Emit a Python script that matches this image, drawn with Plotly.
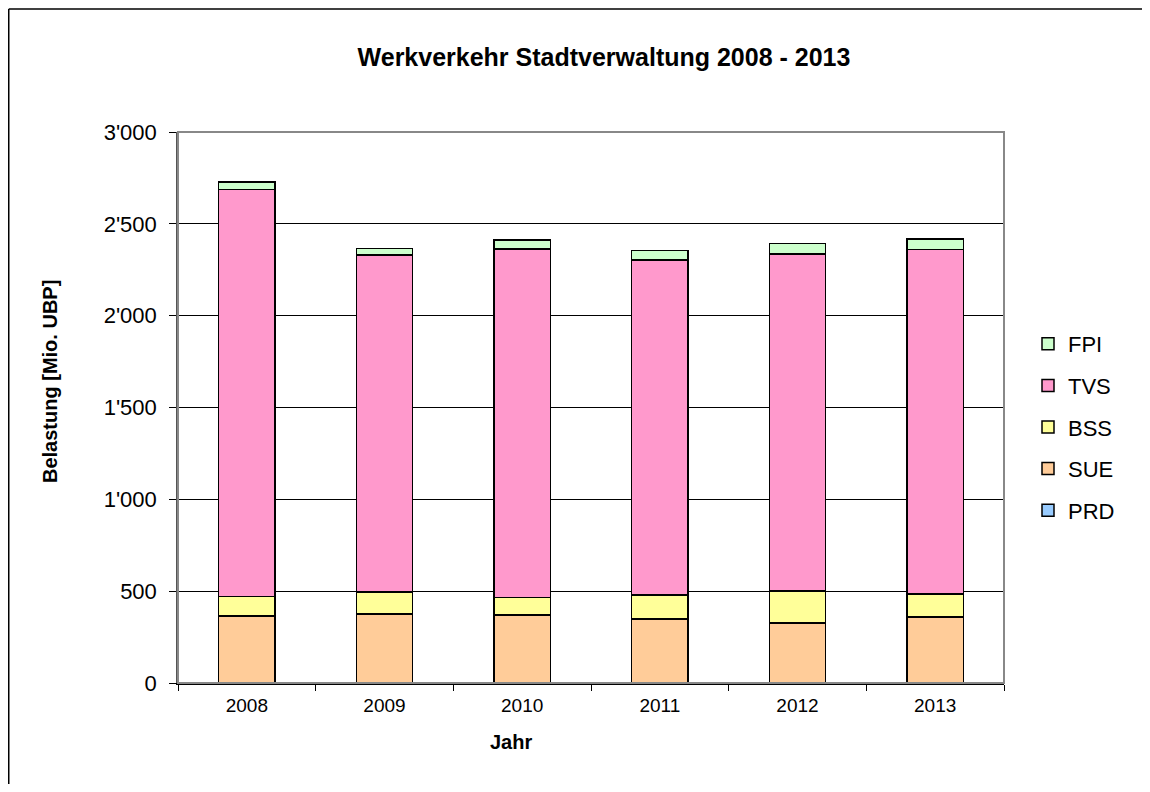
import plotly.graph_objects as go

years = ["2008", "2009", "2010", "2011", "2012", "2013"]
PRD = [3, 3, 3, 3, 3, 3]
SUE = [361, 374, 368, 345, 323, 356]
BSS = [107, 118, 95, 130, 174, 125]
TVS = [2215, 1835, 1898, 1825, 1837, 1876]
FPI = [41, 36, 47, 52, 56, 57]

series = [("PRD", PRD, "#99CCFF"), ("SUE", SUE, "#FFCC99"), ("BSS", BSS, "#FFFF99"),
          ("TVS", TVS, "#FF99CC"), ("FPI", FPI, "#CCFFCC")]

FONT = "Liberation Sans, Arial, sans-serif"
OFF = 8                      # page body margin
W, H = 1134, 776             # figure size (fits the window with the body margin)
# plot area in page coordinates of the reference
PL, PR, PT, PB = 178, 1004, 132, 683
L, R, T, B = PL - OFF, PR - OFF, PT - OFF, PB - OFF

fig = go.Figure()
n = len(series)
for i, (name, vals, col) in enumerate(series):
    fig.add_trace(go.Bar(x=years, y=vals, name=name, legendgroup=name, legendrank=n - i,
                         marker=dict(color=col, line=dict(color="black", width=1.5)),
                         width=0.41))

def px_x(x):  # page x -> paper
    return (x - OFF - L) / (R - L)

def px_y(y):  # page y -> paper
    return (B - (y - OFF)) / (B - T)

fig.update_layout(
    width=W, height=H,
    margin=dict(l=L, r=W - R, t=T, b=H - B, pad=0),
    barmode="stack",
    separators=".'",
    paper_bgcolor="white", plot_bgcolor="white",
    font=dict(family=FONT, color="black"),
    showlegend=True,
    legend=dict(x=px_x(1028), xanchor="left", y=px_y(427), yanchor="middle",
                traceorder="grouped", tracegroupgap=10,
                font=dict(size=22, family=FONT), bgcolor="rgba(0,0,0,0)"),
    title=dict(text="<b>Werkverkehr Stadtverwaltung 2008 - 2013</b>",
               x=px_x(604), xref="paper", xanchor="center",
               y=1 - (57 - OFF) / H, yref="container", yanchor="middle",
               font=dict(size=25, family=FONT, color="black")),
    xaxis=dict(type="category", showgrid=False, showline=True, linecolor="black", linewidth=1.5,
               ticks="outside", tickson="boundaries", ticklen=6, tickcolor="black",
               ticklabelstandoff=4,
               tickfont=dict(size=19, family=FONT), fixedrange=True),
    yaxis=dict(range=[0, 3000], dtick=500, tickformat=",d", showgrid=True, gridcolor="black",
               gridwidth=1, showline=True, linecolor="#555555", linewidth=1.5,
               ticks="outside", ticklen=7, tickcolor="black", zeroline=False,
               ticklabelstandoff=8,
               tickfont=dict(size=22, family=FONT), fixedrange=True),
    shapes=[
        dict(type="rect", xref="paper", yref="paper", x0=0, x1=1, y0=0, y1=1,
             line=dict(color="#888888", width=2), layer="above"),
        dict(type="line", xref="paper", yref="paper", x0=px_x(OFF + 0.75), x1=px_x(OFF + 0.75),
             y0=px_y(820), y1=px_y(9), line=dict(color="black", width=1.5), layer="below"),
        dict(type="line", xref="paper", yref="paper", x0=px_x(OFF + 0.75), x1=px_x(1200),
             y0=px_y(9), y1=px_y(9), line=dict(color="black", width=1.5), layer="below"),
    ],
    annotations=[
        dict(text="<b>Belastung [Mio. UBP]</b>", textangle=-90, xref="paper", yref="paper",
             x=px_x(50), y=px_y(382), xanchor="center", yanchor="middle", showarrow=False,
             font=dict(size=20, family=FONT, color="black")),
        dict(text="<b>Jahr</b>", xref="paper", yref="paper",
             x=px_x(511), y=px_y(742), xanchor="center", yanchor="middle", showarrow=False,
             font=dict(size=20, family=FONT, color="black")),
    ],
)

fig.write_html("out.html")
